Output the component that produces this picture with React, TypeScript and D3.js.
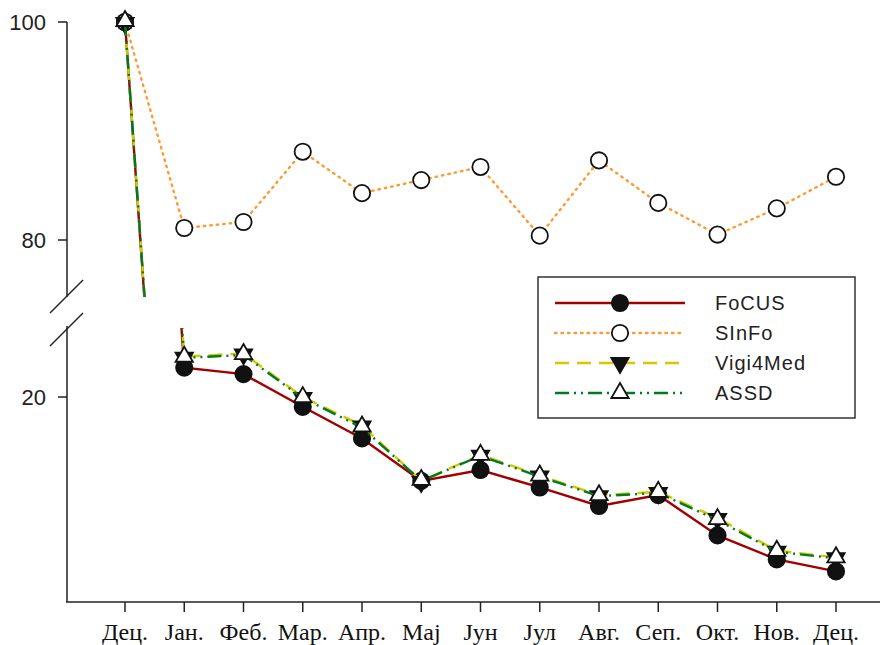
import React, { useRef, useEffect } from "react";
import * as d3 from "d3";

const months = ["Дец.", "Јан.", "Феб.", "Мар.", "Апр.", "Мај", "Јун", "Јул", "Авг.", "Сеп.", "Окт.", "Нов.", "Дец."];
const focus = [100, 22.7, 22.1, 19.1, 16.2, 12.3, 13.3, 11.7, 10.0, 11.0, 7.3, 5.1, 4.0];
const sinfo = [100, 81.1, 81.65, 88.1, 84.3, 85.5, 86.7, 80.4, 87.3, 83.4, 80.5, 82.9, 85.8];
const vigi = [100, 23.7, 24.0, 20.0, 17.4, 12.3, 14.7, 12.8, 11.0, 11.3, 8.9, 5.9, 5.3];
const assd = [100, 23.6, 23.85, 19.9, 17.2, 12.3, 14.6, 12.7, 10.9, 11.2, 8.7, 5.8, 5.2];
const upperTicks = [80, 100];
const lowerTicks = [20];

const series = [
  { name: "FoCUS", values: focus, color: "#a00000", dash: null, marker: "circle", fill: "#111" },
  { name: "SInFo", values: sinfo, color: "#ff9933", dash: "1.5,5", marker: "circle", fill: "#fff" },
  { name: "Vigi4Med", values: vigi, color: "#d6c800", dash: "14,8", marker: "down", fill: "#111" },
  { name: "ASSD", values: assd, color: "#007a22", dash: "14,5,2,5,2,5", marker: "up", fill: "#fff" },
];

function symbolPath(kind: string) {
  if (kind === "circle") return d3.symbol(d3.symbolCircle, 210)();
  return d3.symbol(d3.symbolTriangle, 130)();
}

export default function App() {
  const svgRef = useRef<SVGSVGElement>(null);

  useEffect(() => {
    const svg = d3.select(svgRef.current);
    svg.selectAll("*").remove();

    const x = d3.scalePoint<number>().domain(d3.range(months.length)).range([125, 836]);
    const yUp = d3.scaleLinear().domain([80, 100]).range([240, 22]);
    const yLow = d3.scaleLinear().domain([0, 20]).range([615, 397]);

    const defs = svg.append("defs");
    defs.append("clipPath").attr("id", "clipUp")
      .append("rect").attr("x", 67).attr("y", 0).attr("width", 816).attr("height", 297);
    defs.append("clipPath").attr("id", "clipLow")
      .append("rect").attr("x", 67).attr("y", 328).attr("width", 816).attr("height", 274);

    // axes + break marks
    const ax = svg.append("g").attr("stroke", "#222").attr("stroke-width", 1.5);
    ax.append("line").attr("x1", 67).attr("x2", 67).attr("y1", 22).attr("y2", 297);
    ax.append("line").attr("x1", 67).attr("x2", 67).attr("y1", 326).attr("y2", 602);
    ax.append("line").attr("x1", 66).attr("x2", 880).attr("y1", 602).attr("y2", 602);
    ax.append("line").attr("x1", 50).attr("y1", 313).attr("x2", 83).attr("y2", 280);
    ax.append("line").attr("x1", 50).attr("y1", 346).attr("x2", 83).attr("y2", 313);

    const tickG = svg.append("g");
    const yTicks = [
      ...upperTicks.map(v => ({ v, y: yUp(v) })),
      ...lowerTicks.map(v => ({ v, y: yLow(v) })),
    ];
    yTicks.forEach(t => {
      tickG.append("line").attr("x1", 58).attr("x2", 67).attr("y1", t.y).attr("y2", t.y)
        .attr("stroke", "#222").attr("stroke-width", 1.5);
      tickG.append("text").attr("x", 46).attr("y", t.y + 8).attr("text-anchor", "end")
        .attr("font-family", "Liberation Sans, Arial, sans-serif").attr("font-size", 22)
        .attr("fill", "#222").text(t.v);
    });
    months.forEach((m, i) => {
      tickG.append("line").attr("x1", x(i)).attr("x2", x(i)).attr("y1", 602).attr("y2", 612)
        .attr("stroke", "#222").attr("stroke-width", 1.5);
      tickG.append("text").attr("x", x(i)).attr("y", 640).attr("text-anchor", "middle")
        .attr("font-family", "Liberation Serif, Times New Roman, serif").attr("font-size", 24)
        .attr("fill", "#111").text(m);
    });

    // the two panels of the broken axis
    const panels = [
      { y: yUp, clip: "url(#clipUp)" },
      { y: yLow, clip: "url(#clipLow)" },
    ];
    series.forEach(s => {
      panels.forEach(p => {
        const line = d3.line<number>().x((_, i) => x(i) as number).y(v => p.y(v));
        const g = svg.append("g").attr("clip-path", p.clip);
        g.append("path").attr("d", line(s.values)).attr("fill", "none")
          .attr("stroke", s.color).attr("stroke-width", 2.4)
          .attr("stroke-dasharray", s.dash)
          .attr("stroke-linecap", s.name === "SInFo" ? "round" : "butt");
      });
      panels.forEach(p => {
        const g = svg.append("g").attr("clip-path", p.clip);
        g.selectAll("path.m").data(s.values).join("path").attr("class", "m")
          .attr("d", symbolPath(s.marker))
          .attr("transform", (v, i) => `translate(${x(i)},${p.y(v) + (s.marker === "up" ? -1 : s.marker === "down" ? 1 : 0)})${s.marker === "down" ? " rotate(180)" : ""}`)
          .attr("fill", s.fill).attr("stroke", "#111").attr("stroke-width", 1.8);
      });
    });

    // legend
    const lg = svg.append("g");
    lg.append("rect").attr("x", 538).attr("y", 277).attr("width", 317).attr("height", 141)
      .attr("fill", "#fff").attr("stroke", "#333").attr("stroke-width", 1.5);
    series.forEach((s, i) => {
      const yy = 303 + i * 30;
      lg.append("line").attr("x1", 555).attr("x2", 685).attr("y1", yy).attr("y2", yy)
        .attr("stroke", s.color).attr("stroke-width", 2.4).attr("stroke-dasharray", s.dash)
        .attr("stroke-linecap", s.name === "SInFo" ? "round" : "butt");
      lg.append("path").attr("d", symbolPath(s.marker))
        .attr("transform", `translate(620,${yy})${s.marker === "down" ? " rotate(180)" : ""}`)
        .attr("fill", s.fill).attr("stroke", "#111").attr("stroke-width", 1.8);
      lg.append("text").attr("x", 715).attr("y", yy + 7)
        .attr("font-family", "Liberation Sans, Arial, sans-serif").attr("font-size", 20)
        .attr("letter-spacing", 1).attr("fill", "#222").text(s.name);
    });
  }, []);

  return (
    <svg ref={svgRef} width={883} height={645}
      style={{ position: "fixed", top: 0, left: 0, display: "block", background: "#fff" }} />
  );
}
